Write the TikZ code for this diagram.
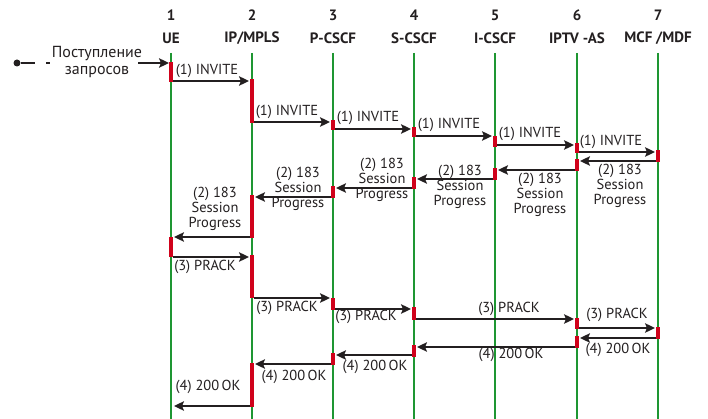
\documentclass[tikz,border=0pt]{standalone}
\usepackage{fontspec}
\setmainfont{PT Sans}
\usetikzlibrary{arrows.meta}
\definecolor{lifegreen}{HTML}{1E9632}
\definecolor{barred}{HTML}{D0021B}
\definecolor{txt}{HTML}{231F20}
\newcommand\actbar[3]{\fill[barred] (#1-2,#2) rectangle (#1+2,#3);}
\tikzset{
  hdr/.style={font=\bfseries\fontsize{15}{17}\selectfont, text=txt, inner sep=0pt},
  lbl/.style={font=\fontsize{14.5}{15}\selectfont, text=txt, inner sep=0pt, align=center},
  life/.style={draw=lifegreen, line width=2pt},
  msg/.style={draw=txt, line width=1.6pt, -{Stealth[length=10pt,width=9.5pt,inset=2pt]}, shorten >=1pt},
}
\begin{document}
\begin{tikzpicture}[x=1pt,y=-1pt]
\useasboundingbox (0,0) rectangle (708,419);
% headers
\foreach \i/\x in {1/171,2/252,3/333,4/414,5/495,6/577,7/658}{
  \node[hdr] (num\i) at (\x,15) {\i};
  \coordinate (t\i) at (\x,53);
  \coordinate (b\i) at (\x,419);
  \draw[life] (t\i) -- (b\i);
}
\node[hdr] (h1) at (171,38) {UE};
\node[hdr] (h2) at (252,38) {IP/MPLS};
\node[hdr] (h3) at (333,38) {P-CSCF};
\node[hdr] (h4) at (414,38) {S-CSCF};
\node[hdr] (h5) at (495,38) {I-CSCF};
\node[hdr] (h6) at (577,38) {IPTV -AS};
\node[hdr] (h7) at (658,38) {MCF /MDF};
% activation bars
\actbar{171}{62}{82}\actbar{171}{237}{257}
\actbar{252}{79}{123}\actbar{252}{195}{238}\actbar{252}{255}{298}\actbar{252}{363}{407}
\actbar{333}{120}{130}\actbar{333}{186}{198}\actbar{333}{298}{310}\actbar{333}{353}{365}
\actbar{414}{127}{137}\actbar{414}{177}{189}\actbar{414}{307}{320}\actbar{414}{345}{357}
\actbar{495}{136}{147}\actbar{495}{168}{180}
\actbar{577}{143}{153}\actbar{577}{159}{171}\actbar{577}{318}{329}\actbar{577}{336}{348}
\actbar{658}{150}{162}\actbar{658}{327}{339}
% incoming requests
\node[circle, fill=txt, inner sep=0pt, minimum size=7pt] (dot) at (17,63) {};
\coordinate (d1) at (35,63);
\coordinate (d2) at (46,63);
\coordinate (d3) at (50,63);
\draw[txt, line width=1.6pt] (dot) -- (d1);
\draw[txt, line width=1.6pt] (d2) -- (d3);
\node[lbl, font=\fontsize{16}{16}\selectfont] (req) at (97,62) {Поступление\\[1pt]запросов};
\coordinate (reqstart) at (138,63);
\coordinate (reqend) at (169,63);
\draw[msg, shorten >=0pt] (reqstart) -- (reqend);
% INVITE
\draw[msg] (173,81) -- (250,81);  \node[lbl] (m1) at (207,71) {(1) INVITE};
\draw[msg] (254,122) -- (331,122); \node[lbl] (m2) at (287,112) {(1) INVITE};
\draw[msg] (335,129) -- (412,129); \node[lbl] (m3) at (368,118) {(1) INVITE};
\draw[msg] (416,136) -- (493,136); \node[lbl] (m4) at (449,125) {(1) INVITE};
\draw[msg] (497,145) -- (575,145); \node[lbl] (m5) at (530,134) {(1) INVITE};
\draw[msg] (579,152) -- (656,152); \node[lbl] (m6) at (611,142) {(1) INVITE};
% 183
\draw[msg] (656,161) -- (579,161); \node[lbl] (m7) at (620,186) {(2) 183\\Session\\Progress};
\draw[msg] (575,170) -- (497,170); \node[lbl] (m8) at (540,195) {(2) 183\\Session\\Progress};
\draw[msg] (493,179) -- (416,179); \node[lbl] (m9) at (460,187) {(2) 183\\Session\\Progress};
\draw[msg] (412,188) -- (335,188); \node[lbl] (m10) at (382,180) {(2) 183\\Session\\Progress};
\draw[msg] (331,197) -- (254,197); \node[lbl] (m11) at (298,189) {(2) 183\\Session\\Progress};
\draw[msg] (250,237) -- (173,237); \node[lbl] (m12) at (215,209) {(2) 183\\Session\\Progress};
% PRACK
\draw[msg] (173,257) -- (250,257); \node[lbl] (m13) at (205,267) {(3) PRACK};
\draw[msg] (254,298) -- (331,298); \node[lbl] (m14) at (287,308) {(3) PRACK};
\draw[msg] (335,309) -- (412,309); \node[lbl] (m15) at (366,317) {(3) PRACK};
\draw[msg] (416,319) -- (575,319); \node[lbl] (m16) at (509,309) {(3) PRACK};
\draw[msg] (579,328) -- (656,328); \node[lbl] (m17) at (617,315) {(3) PRACK};
% 200 OK
\draw[msg] (656,338) -- (579,338); \node[lbl] (m18) at (618,350) {(4) 200\,OK};
\draw[msg] (575,347) -- (416,347); \node[lbl] (m19) at (511,355) {(4) 200\,OK};
\draw[msg] (412,355) -- (335,355); \node[lbl] (m20) at (375,367) {(4) 200\,OK};
\draw[msg] (331,364) -- (254,364); \node[lbl] (m21) at (294,377) {(4) 200\,OK};
\draw[msg] (250,406) -- (173,406); \node[lbl] (m22) at (208,387) {(4) 200\,OK};
\end{tikzpicture}
\end{document}
